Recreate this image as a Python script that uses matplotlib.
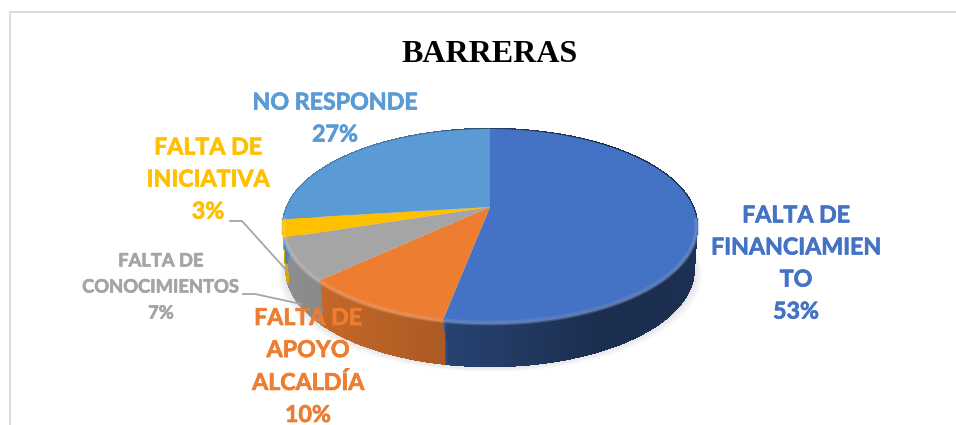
import numpy as np
import matplotlib
matplotlib.use('Agg')
import matplotlib.pyplot as plt
import matplotlib.patheffects as pe
from matplotlib.collections import PolyCollection
from matplotlib.path import Path
from matplotlib.transforms import Affine2D, Transform
from matplotlib.colors import to_rgb

# datos
title = 'BARRERAS'
values = [53, 10, 7, 3, 27]
names = ['FALTA DE\nFINANCIAMIEN\nTO', 'FALTA DE\nAPOYO\nALCALDÍA', 'FALTA DE\nCONOCIMIENTOS',
         'FALTA DE\nINICIATIVA', 'NO RESPONDE']
colors = ['#4472C4', '#ED7D31', '#A5A5A5', '#FFC000', '#5B9BD5']

# posicion de etiquetas en pixeles (centro x, centro y)
label_pos = [(796, 264), (308, 367), (161, 287), (208, 180), (335, 119)]
label_size = [16.7, 16.7, 13.2, 16.7, 16.7]
label_spacing = [1.65, 1.65, 1.65, 1.65, 1.65]
leaders = [([230, 242, 288], [221, 221, 272]), ([243, 255, 301], [294, 294, 304])]

# perspectiva del disco
CX, CY = 490, 207
AX_, BY, K = 203, 93, 0.192
DEPTH = 44


def project(x, y, dy=0, sx=1.0):
    w = 1 + K * y
    return CX + sx * AX_ * x / w, CY + dy - BY * y / w


class Perspective(Transform):
    input_dims = 2
    output_dims = 2

    def transform_non_affine(self, xy):
        xy = np.asarray(xy)
        px, py = project(xy[:, 0], xy[:, 1])
        return np.column_stack([px, py])

    def transform_path_non_affine(self, path):
        # aplanar las curvas antes de proyectar
        poly = path.transformed(Affine2D().scale(500)).to_polygons(closed_only=False)[0] / 500
        return Path(self.transform_non_affine(poly))


fig = plt.figure(figsize=(9.56, 4.25), dpi=100)
ax = fig.add_axes([0, 0, 1, 1])

wedges, _ = ax.pie(values, colors=colors, startangle=90, counterclock=False, radius=1, center=(0, 0))
ax.set_aspect('auto')
ax.set_xlim(0, 956)
ax.set_ylim(425, 0)
ax.axis('off')

persp = Perspective()
for w in wedges:
    w.set_transform(persp + ax.transData)
    w.set_zorder(5)
    w.set_linewidth(0)

# sombra suave
t = np.linspace(0, 2 * np.pi, 240)
for grow in np.arange(1, 11):
    sx, sy = project(np.cos(t), np.sin(t), dy=DEPTH + grow * 0.6, sx=0.985 + grow * 0.004)
    ax.fill(sx, sy, color='#000000', alpha=0.012, lw=0, zorder=1)

# pared lateral con degradado
quads, quad_colors = [], []
for w, c in zip(wedges, colors):
    ang = np.radians(np.linspace(w.theta1, w.theta2, max(int(w.theta2 - w.theta1), 2) + 1))
    base = np.array(to_rgb(c))
    x1, y1 = project(np.cos(ang), np.sin(ang))
    x2, y2 = project(np.cos(ang), np.sin(ang), dy=DEPTH, sx=0.985)
    for i in range(len(ang) - 1):
        quads.append([(x1[i], y1[i]), (x1[i + 1], y1[i + 1]), (x2[i + 1], y2[i + 1]), (x2[i], y2[i])])
        f = np.interp(x1[i], [285, 445, 446, 600, 697], [0.86, 0.72, 0.58, 0.40, 0.42])
        quad_colors.append(base * f)
ax.add_collection(PolyCollection(quads, facecolors=quad_colors, edgecolors=quad_colors, linewidths=1.0,
                                 antialiaseds=False, zorder=2))

# borde claro (bisel), en dos pasadas para difuminar
for w, c in zip(wedges, colors):
    ang = np.radians(np.linspace(w.theta1, w.theta2, 120))
    base = np.array(to_rgb(c))
    rx, ry = project(np.cos(ang), np.sin(ang))
    keep = ry > 215
    ax.plot(rx[keep], ry[keep] + 1, color=base * 0.72 + 0.28, lw=3.5, alpha=0.35, zorder=6, solid_capstyle='butt')
    ax.plot(rx[keep], ry[keep] + 1, color=base * 0.72 + 0.28, lw=1.5, alpha=0.6, zorder=6, solid_capstyle='butt')

# lineas guia
for lx, ly in leaders:
    ax.plot(lx, ly, color='#A6A6A6', lw=1.3, zorder=7)

# etiquetas
for name, val, c, (lx, ly), fs, sp in zip(names, values, colors, label_pos, label_size, label_spacing):
    ax.text(lx, ly, f'{name}\n{val}%', color=c, fontsize=fs, fontweight='bold', family='Lato',
            ha='center', va='center', linespacing=sp, zorder=8,
            path_effects=[pe.withStroke(linewidth=0.5, foreground=c)])

ax.text(490, 54.5, title, color='black', fontsize=23, fontweight='bold', family='Liberation Serif',
        ha='center', va='center', zorder=8)

# marco del grafico (sin lado derecho)
ax.plot([10, 10, 956], [425, 12, 12], color='#D9D9D9', lw=1.3, zorder=0)

fig.savefig('out.png', dpi=100)
